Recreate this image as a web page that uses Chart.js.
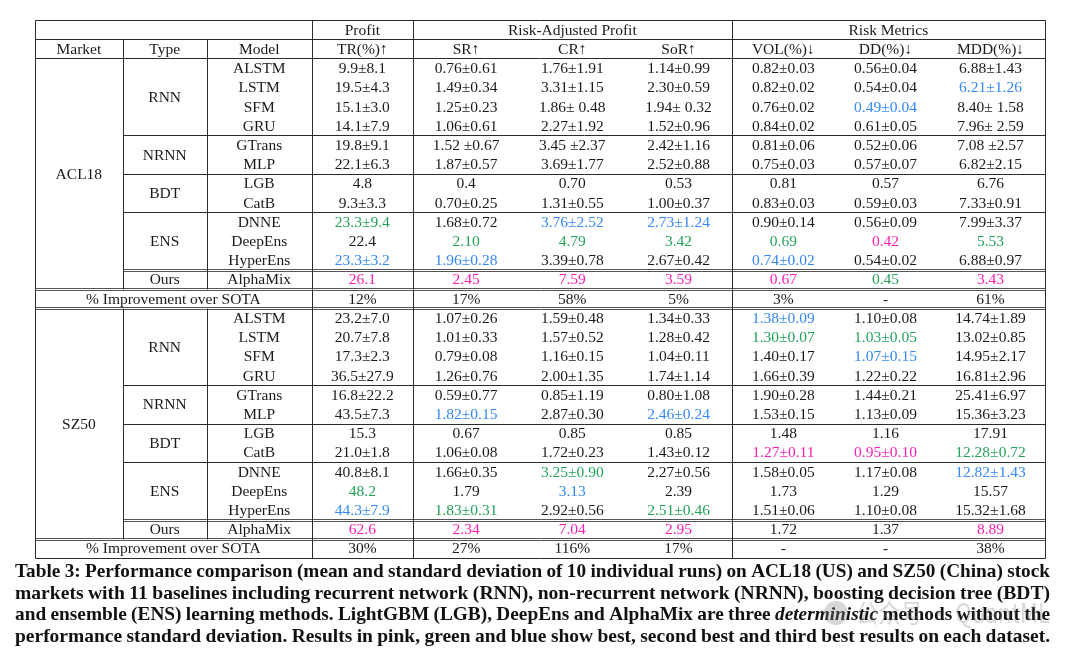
<!DOCTYPE html>
<html><head><meta charset="utf-8">
<script src="https://cdn.jsdelivr.net/npm/chart.js@4.4.1/dist/chart.umd.min.js"></script>
<style>html,body{margin:0;padding:0;background:#fff;}canvas{display:block;}</style>
</head><body>
<canvas id="c" width="1080" height="661"></canvas>
<script>
// ---------- data ----------
const markets = ['ACL18', 'SZ50'];
const typeGroups = ['RNN', 'NRNN', 'BDT', 'ENS', 'Ours'];
const typeSizes = [4, 2, 2, 3, 1];
const models = ['ALSTM','LSTM','SFM','GRU','GTrans','MLP','LGB','CatB','DNNE','DeepEns','HyperEns','AlphaMix'];
const groupHeaders = ['Profit', 'Risk-Adjusted Profit', 'Risk Metrics'];
const groupSpans = [1, 3, 3];
const stubHeaders = ['Market', 'Type', 'Model'];
const metricLabels = ['TR(%)↑','SR↑','CR↑','SoR↑','VOL(%)↓','DD(%)↓','MDD(%)↓'];
const improveLabel = '% Improvement over SOTA';

const acl18_TR  = ['9.9±8.1','19.5±4.3','15.1±3.0','14.1±7.9','19.8±9.1','22.1±6.3','4.8','9.3±3.3','23.3±9.4','22.4','23.3±3.2','26.1'];
const acl18_SR  = ['0.76±0.61','1.49±0.34','1.25±0.23','1.06±0.61','1.52 ±0.67','1.87±0.57','0.4','0.70±0.25','1.68±0.72','2.10','1.96±0.28','2.45'];
const acl18_CR  = ['1.76±1.91','3.31±1.15','1.86± 0.48','2.27±1.92','3.45 ±2.37','3.69±1.77','0.70','1.31±0.55','3.76±2.52','4.79','3.39±0.78','7.59'];
const acl18_SoR = ['1.14±0.99','2.30±0.59','1.94± 0.32','1.52±0.96','2.42±1.16','2.52±0.88','0.53','1.00±0.37','2.73±1.24','3.42','2.67±0.42','3.59'];
const acl18_VOL = ['0.82±0.03','0.82±0.02','0.76±0.02','0.84±0.02','0.81±0.06','0.75±0.03','0.81','0.83±0.03','0.90±0.14','0.69','0.74±0.02','0.67'];
const acl18_DD  = ['0.56±0.04','0.54±0.04','0.49±0.04','0.61±0.05','0.52±0.06','0.57±0.07','0.57','0.59±0.03','0.56±0.09','0.42','0.54±0.02','0.45'];
const acl18_MDD = ['6.88±1.43','6.21±1.26','8.40± 1.58','7.96± 2.59','7.08 ±2.57','6.82±2.15','6.76','7.33±0.91','7.99±3.37','5.53','6.88±0.97','3.43'];
const acl18_improve = ['12%','17%','58%','5%','3%','-','61%'];

const sz50_TR  = ['23.2±7.0','20.7±7.8','17.3±2.3','36.5±27.9','16.8±22.2','43.5±7.3','15.3','21.0±1.8','40.8±8.1','48.2','44.3±7.9','62.6'];
const sz50_SR  = ['1.07±0.26','1.01±0.33','0.79±0.08','1.26±0.76','0.59±0.77','1.82±0.15','0.67','1.06±0.08','1.66±0.35','1.79','1.83±0.31','2.34'];
const sz50_CR  = ['1.59±0.48','1.57±0.52','1.16±0.15','2.00±1.35','0.85±1.19','2.87±0.30','0.85','1.72±0.23','3.25±0.90','3.13','2.92±0.56','7.04'];
const sz50_SoR = ['1.34±0.33','1.28±0.42','1.04±0.11','1.74±1.14','0.80±1.08','2.46±0.24','0.85','1.43±0.12','2.27±0.56','2.39','2.51±0.46','2.95'];
const sz50_VOL = ['1.38±0.09','1.30±0.07','1.40±0.17','1.66±0.39','1.90±0.28','1.53±0.15','1.48','1.27±0.11','1.58±0.05','1.73','1.51±0.06','1.72'];
const sz50_DD  = ['1.10±0.08','1.03±0.05','1.07±0.15','1.22±0.22','1.44±0.21','1.13±0.09','1.16','0.95±0.10','1.17±0.08','1.29','1.10±0.08','1.37'];
const sz50_MDD = ['14.74±1.89','13.02±0.85','14.95±2.17','16.81±2.96','25.41±6.97','15.36±3.23','17.91','12.28±0.72','12.82±1.43','15.57','15.32±1.68','8.89'];
const sz50_improve = ['30%','27%','116%','17%','-','-','38%'];

// rank: 1 = best (pink), 2 = second (green), 3 = third (blue), 0 = none
const acl18_rank_TR  = [0,0,0,0,0,0,0,0,2,0,3,1];
const acl18_rank_SR  = [0,0,0,0,0,0,0,0,0,2,3,1];
const acl18_rank_CR  = [0,0,0,0,0,0,0,0,3,2,0,1];
const acl18_rank_SoR = [0,0,0,0,0,0,0,0,3,2,0,1];
const acl18_rank_VOL = [0,0,0,0,0,0,0,0,0,2,3,1];
const acl18_rank_DD  = [0,0,3,0,0,0,0,0,0,1,0,2];
const acl18_rank_MDD = [0,3,0,0,0,0,0,0,0,2,0,1];
const sz50_rank_TR  = [0,0,0,0,0,0,0,0,0,2,3,1];
const sz50_rank_SR  = [0,0,0,0,0,3,0,0,0,0,2,1];
const sz50_rank_CR  = [0,0,0,0,0,0,0,0,2,3,0,1];
const sz50_rank_SoR = [0,0,0,0,0,3,0,0,0,0,2,1];
const sz50_rank_VOL = [3,2,0,0,0,0,0,1,0,0,0,0];
const sz50_rank_DD  = [0,2,3,0,0,0,0,1,0,0,0,0];
const sz50_rank_MDD = [0,0,0,0,0,0,0,2,3,0,0,1];

const captionLines = [
  'Table 3: Performance comparison (mean and standard deviation of 10 individual runs) on ACL18 (US) and SZ50 (China) stock',
  'markets with 11 baselines including recurrent network (RNN), non-recurrent network (NRNN), boosting decision tree (BDT)',
  'and ensemble (ENS) learning methods. LightGBM (LGB), DeepEns and AlphaMix are three deterministic methods without the',
  'performance standard deviation. Results in pink, green and blue show best, second best and third best results on each dataset.'
];
const italicWords = ['deterministic'];
const watermarkText = '公众号 · QuantML';

// ---------- layout / style ----------
const marketValues = [
  [acl18_TR, acl18_SR, acl18_CR, acl18_SoR, acl18_VOL, acl18_DD, acl18_MDD],
  [sz50_TR, sz50_SR, sz50_CR, sz50_SoR, sz50_VOL, sz50_DD, sz50_MDD]
];
const marketRanks = [
  [acl18_rank_TR, acl18_rank_SR, acl18_rank_CR, acl18_rank_SoR, acl18_rank_VOL, acl18_rank_DD, acl18_rank_MDD],
  [sz50_rank_TR, sz50_rank_SR, sz50_rank_CR, sz50_rank_SoR, sz50_rank_VOL, sz50_rank_DD, sz50_rank_MDD]
];
const marketImprove = [acl18_improve, sz50_improve];

const colWidths = [87.7, 84, 105, 101.3, 106.2, 106.2, 106.3, 103.3, 101, 109];
const colEdges = [0];
colWidths.forEach(w => colEdges.push(colEdges[colEdges.length - 1] + w));
const colMid = i => (colEdges[i] + colEdges[i + 1]) / 2;
const spanMid = (a, b) => (colEdges[a] + colEdges[b + 1]) / 2;
const rankColors = ['#1a1a1a', '#ff1fb4', '#23a35a', '#3388f5'];
const TEXT = '#1a1a1a';
const blockRows = models.length + 1;

const cells = [];
function cell(x, y, text, color) { cells.push({ x, y, text, color: color || TEXT }); }
let c0 = 3;
groupHeaders.forEach((h, i) => { cell(spanMid(c0, c0 + groupSpans[i] - 1), -2, h); c0 += groupSpans[i]; });
stubHeaders.forEach((h, i) => cell(colMid(i), -1, h));
metricLabels.forEach((h, i) => cell(colMid(3 + i), -1, h));
markets.forEach((m, mi) => {
  const base = mi * blockRows;
  cell(colMid(0), base + (models.length - 1) / 2, m);
  let start = 0;
  typeGroups.forEach((t, ti) => { cell(colMid(1), base + start + (typeSizes[ti] - 1) / 2, t); start += typeSizes[ti]; });
  models.forEach((md, r) => {
    cell(colMid(2), base + r, md);
    marketValues[mi].forEach((arr, k) => cell(colMid(3 + k), base + r, arr[r], rankColors[marketRanks[mi][k][r]]));
  });
  cell(spanMid(0, 2), base + models.length, improveLabel);
  marketImprove[mi].forEach((v, k) => cell(colMid(3 + k), base + models.length, v));
});

const totalRows = markets.length * blockRows;

const tablePlugin = {
  id: 'tableDraw',
  beforeDatasetsDraw(chart) {
    const { ctx, scales: { x, y } } = chart;
    const X = v => Math.round(x.getPixelForValue(v)) + 0.5;
    const Y = v => Math.round(y.getPixelForValue(v)) + 0.5;
    ctx.save();
    ctx.lineWidth = 1;
    const hline = (r, a, b, dbl) => {
      ctx.beginPath();
      if (dbl) {
        ctx.strokeStyle = '#555';
        ctx.moveTo(X(a), Y(r) - 1); ctx.lineTo(X(b), Y(r) - 1);
        ctx.moveTo(X(a), Y(r) + 1); ctx.lineTo(X(b), Y(r) + 1);
      } else {
        ctx.strokeStyle = '#2b2b2b';
        ctx.moveTo(X(a), Y(r)); ctx.lineTo(X(b), Y(r));
      }
      ctx.stroke();
    };
    const vline = (cx, r0, r1) => {
      ctx.strokeStyle = '#2b2b2b';
      ctx.beginPath(); ctx.moveTo(X(cx), Y(r0)); ctx.lineTo(X(cx), Y(r1)); ctx.stroke();
    };
    const end = colEdges[colEdges.length - 1];
    [-2.5, -1.5, -0.5].forEach(r => hline(r, 0, end));
    hline(totalRows - 0.5, 0, end);
    markets.forEach((m, mi) => {
      const base = mi * blockRows;
      let s = 0;
      typeSizes.forEach((sz, ti) => {
        s += sz;
        const r = base + s - 0.5;
        if (ti < typeSizes.length - 2) hline(r, colEdges[1], end);
        else if (ti === typeSizes.length - 2) hline(r, colEdges[1], end, true);
        else hline(r, 0, end, true);
      });
      if (mi < markets.length - 1) hline(base + models.length + 0.5, 0, end, true);
      [1, 2].forEach(ci => vline(colEdges[ci], base - 0.5, base + models.length - 0.5));
    });
    [1, 2].forEach(ci => vline(colEdges[ci], -1.5, -0.5));
    [0, 3, 4, 7, 10].forEach(ci => vline(colEdges[ci], -2.5, totalRows - 0.5));
    ctx.restore();
  },
  afterDatasetsDraw(chart) {
    const { ctx } = chart;
    const meta = chart.getDatasetMeta(0);
    const data = chart.data.datasets[0].data;
    ctx.save();
    ctx.font = '15.5px "Liberation Serif", "DejaVu Serif", serif';
    ctx.textAlign = 'center';
    ctx.textBaseline = 'middle';
    meta.data.forEach((el, i) => {
      ctx.fillStyle = data[i].color;
      ctx.fillText(data[i].text, el.x, el.y + 1);
    });
    // caption: tall condensed bold serif, justified to the block width
    const left = 15, right = 1050;
    const top = chart.chartArea.bottom + 14;
    const fs = 19.5;
    const bold = `bold ${fs}px "Liberation Serif", serif`;
    const boldIt = `italic bold ${fs}px "Liberation Serif", serif`;
    ctx.textAlign = 'left';
    ctx.fillStyle = '#111';
    captionLines.forEach((line, li) => {
      const words = line.split(' ');
      const widths = words.map(w => { ctx.font = italicWords.includes(w) ? boldIt : bold; return ctx.measureText(w).width; });
      ctx.font = bold;
      const sp = ctx.measureText(' ').width * 0.9;
      const natural = widths.reduce((a, b) => a + b, 0) + sp * (words.length - 1);
      const target = right - left;
      const scale = target / natural;
      const yy = top + li * 21.5;
      ctx.save();
      ctx.translate(left, yy);
      ctx.scale(scale, 1);
      let xx = 0;
      words.forEach((w, wi) => {
        ctx.font = italicWords.includes(w) ? boldIt : bold;
        ctx.fillText(w, xx, 0);
        xx += widths[wi] + sp;
      });
      ctx.restore();
    });
    // watermark
    ctx.globalAlpha = 0.33;
    ctx.fillStyle = '#8a8a8a';
    ctx.font = '24px "Noto Sans CJK SC", sans-serif';
    ctx.textAlign = 'left';
    const wmY = top + 41;
    const wmW = ctx.measureText(watermarkText).width;
    ctx.save();
    ctx.translate(856, wmY);
    ctx.scale(Math.min(1, 194 / wmW), 1.1);
    ctx.fillText(watermarkText, 0, 0);
    ctx.restore();
    ctx.beginPath();
    ctx.arc(836, wmY, 12, 0, Math.PI * 2);
    ctx.fill();
    ctx.restore();
  }
};

new Chart(document.getElementById('c'), {
  type: 'scatter',
  data: { datasets: [{ data: cells, pointRadius: 0, pointHoverRadius: 0, showLine: false }] },
  options: {
    responsive: false,
    animation: false,
    devicePixelRatio: 1,
    events: [],
    layout: { padding: { left: 35, right: 35, top: 20, bottom: 103 } },
    plugins: { legend: { display: false }, tooltip: { enabled: false }, title: { display: false } },
    scales: {
      x: { type: 'linear', display: false, min: 0, max: colEdges[colEdges.length - 1] },
      y: { type: 'linear', display: false, min: -2.5, max: totalRows - 0.5, reverse: true }
    }
  },
  plugins: [tablePlugin]
});
</script>
</body></html>
